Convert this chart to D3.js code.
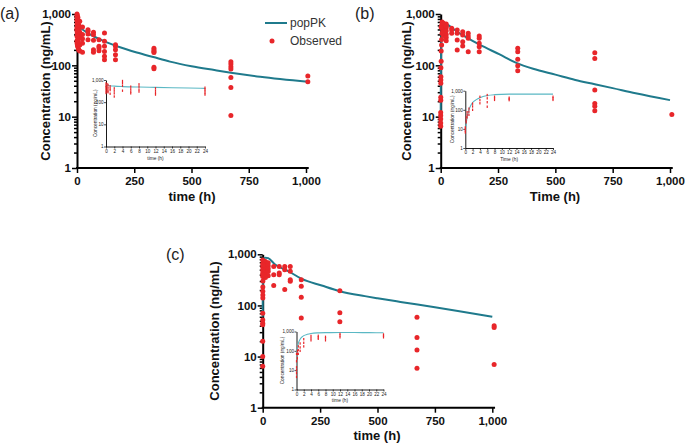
<!DOCTYPE html>
<html><head><meta charset="utf-8">
<script src="https://cdn.jsdelivr.net/npm/d3@7"></script>
<style>body{margin:0;background:#fff}svg{display:block}text{font-family:"Liberation Sans",Arial,sans-serif}</style>
</head><body>
<script>
// ---------- tick labels ----------
const yTickLabels = [1, 10, 100, 1000];
const xTicksMain = [0, 250, 500, 750, 1000];
const xTicksInset = [0, 2, 4, 6, 8, 10, 12, 14, 16, 18, 20, 22, 24];
const panelLabels = ["(a)", "(b)", "(c)"];
const xTitles = ["time (h)", "Time (h)", "time (h)"];
const yTitle = "Concentration (ng/mL)";
const legendLabels = ["popPK", "Observed"];

// ---------- popPK predictions [time h, conc ng/mL] ----------
const predA = [[0,600],[24,500],[57,400],[115,300],[188,225],[261,178],[333,145],[406,118],[500,96],[600,81],[672,72],[800,60],[1008,48]];
const predB = [[0,8],[0.5,40],[1,100],[2,240],[4,430],[6,560],[12,650],[24,640],[48,540],[72,450],[112,350],[170,252],[257,163],[330,112],[403,86],[500,66],[587,52],[672,43],[750,36],[850,28.5],[1000,21]];
const predC = [[0,60],[0.25,150],[0.5,250],[1,420],[2,620],[3,720],[4,780],[6,830],[8,850],[12,860],[24,840],[54,630],[111,470],[170,330],[257,245],[336,190],[445,152],[500,138],[600,117],[750,92],[850,78],[1000,60]];

// ---------- observed [time h, conc ng/mL] ----------
const obsA = [
[0,1000],[0,900],[0.5,800],[1,950],[2,700],[0,750],[4,850],[6,650],[8,600],[12,720],[24,560],
[0,640],[0.5,560],[1,500],[2,460],[4,420],[6,400],[8,380],[12,350],[24,330],
[0,300],[0.5,280],[1,260],[2,240],[4,230],[6,210],[8,200],[12,190],[24,180],
[0,520],[1,420],[2,360],[4,310],[6,550],[8,480],[12,440],[24,400],[0.25,470],[0.25,370],[24,270],[12,250],[6,290],
[48,494],[48,460],[48,408],[48,316],
[72,440],[72,395],[72,307],[72,201],[72,179],
[96,316],[96,235],[96,217],[96,193],
[120,426],[120,293],[120,235],[120,187],[120,150],[120,128],
[168,252],[168,235],[168,201],[168,161],[168,128],
[336,215],[336,200],[336,185],[336,178],[336,92],[336,86],
[672,117],[672,106],[672,94],[672,85],[672,58],[672,37],[672,10.5],
[1008,62],[1008,48]];
const obsB = [
[0,6.5],[0,7.5],[0,9],[0,10.5],[0,12],[0.25,21],[0.25,24],[0.5,45],[0.5,52],[1,60],[1,90],[2,120],[2,190],[4,250],[4,320],[6,420],[6,700],[8,620],[8,500],[12,560],[12,460],[12,380],
[24,640],[24,540],[24,470],[24,400],[24,350],[24,300],[6,560],[4,600],[2,550],[8,420],[12,660],[24,580],
[48,525],[48,488],[48,420],
[72,488],[72,420],[72,311],[72,198],
[96,452],[96,390],[96,288],[96,238],
[120,420],[120,372],[120,336],[120,184],
[168,372],[168,336],[168,268],[168,231],[168,184],
[336,214],[336,184],[336,131],[336,98],[336,78],
[672,176],[672,136],[672,33],[672,18],[672,16],[672,13],
[1008,11]];
const obsC = [
[0,770],[0,650],[0,560],[0,480],[0,420],[0,370],[0.5,230],[0.5,190],[0.5,160],[0.5,140],[0.25,70],[0.25,52],[0,45],[0,42],[0,20],[0,10],[0,6.5],
[4,740],[4,600],[6,700],[6,520],[8,650],[8,480],[12,720],[12,560],[12,430],[24,680],[24,600],[24,520],[24,460],[24,380],[12,350],[2,620],[2,400],[1,300],
[48,580],[48,400],[48,245],
[72,580],[72,430],[72,400],
[96,580],[96,500],[96,205],
[120,580],[120,465],[120,318],[120,296],
[168,318],[168,236],[168,144],[168,57],
[336,194],[336,72],[336,48],
[672,59],[672,23.5],[672,13.5],[672,5.9],
[1008,40],[1008,37],[1008,7]];

// ---------- inset (0-24 h) ----------
const insetPredA = [[0,640],[0.5,570],[1,550],[2,530],[4,505],[8,480],[12,465],[16,450],[20,435],[24,420]];
const insetPredB = [[0,8],[0.25,20],[0.5,40],[1,100],[1.5,170],[2,240],[3,340],[4,430],[6,560],[8,620],[12,660],[16,665],[20,665],[24,660]];
const insetPredC = [[0,60],[0.25,140],[0.5,240],[1,400],[1.5,520],[2,610],[3,720],[4,790],[6,850],[8,870],[12,880],[16,880],[20,870],[24,860]];
const insetObsA = [
[0,700],[0,560],[0,480],[0,400],[0,320],[0,260],
[0.25,650],[0.25,500],[0.25,380],[0.25,300],
[0.5,600],[0.5,450],[0.5,340],[0.5,280],
[1,520],[1,420],[1,350],[1,240],
[2,420],[2,330],[2,250],[2,180],
[4,900],[4,720],[4,550],[4,330],
[6,500],[6,380],[6,300],[6,250],
[8,640],[8,500],[8,370],[8,300],
[12,420],[12,330],[12,260],[12,220],
[24,450],[24,380],[24,320],[24,260],[24,220]];
const insetObsB = [
[0,12],[0,10],[0,8],[0,6.5],
[0.25,40],[0.25,28],[0.25,22],
[0.5,75],[0.5,55],[0.5,40],
[1,115],[1,80],[1,55],
[2,210],[2,150],[2,100],
[4,480],[4,320],[4,220],
[6,590],[6,400],[6,250],[6,145],
[8,480],[8,400],[8,330],
[12,430],[12,370],[12,320],
[24,480],[24,400],[24,330]];
const insetObsC = [
[0,70],[0,29],[0,14],[0,10],[0,7],[0,4.5],
[0.25,100],[0.25,70],[0.25,41],
[0.5,170],[0.5,110],[0.5,70],
[1,240],[1,150],[1,100],
[2,400],[2,260],[2,170],
[4,590],[4,450],[4,350],
[6,600],[6,500],[6,420],
[8,530],[8,450],[8,350],
[12,750],[12,620],[12,500],
[24,700],[24,600],[24,500]];

// ---------- styling / layout ----------
const LINE = "#1f7a8c", INSET_LINE = "#5ab8c4", RED = "#e8262a";
const W = 685, H = 446;
const svg = d3.select("body").append("svg").attr("width", W).attr("height", H);
const fmt = d3.format(",");

function mainPanel(L, pred, obs, idx) {
  const k = (L.x1000 - L.x0) / 1000;
  const x = d3.scaleLinear().domain([0, 1000]).range([L.x0, L.x1000]);
  const y = d3.scaleLog().domain([1, 1000]).range([L.yB, L.yT]);
  const g = svg.append("g");
  const ya = g.append("g").attr("transform", `translate(${L.x0},0)`)
    .call(d3.axisLeft(y).tickValues(y.ticks()).tickSizeOuter(0)
      .tickFormat(d => yTickLabels.includes(d) ? fmt(d) : ""));
  ya.select(".domain").attr("stroke", "#000").attr("stroke-width", 2);
  ya.selectAll(".tick line").attr("stroke", "#000").attr("stroke-width", 1.5)
    .attr("x2", d => yTickLabels.includes(d) ? -5 : -3);
  ya.selectAll(".tick text").attr("x", -6).attr("font-size", 11.5).attr("font-weight", "bold").attr("fill", "#111");
  const xa = g.append("g").attr("transform", `translate(0,${L.yB})`)
    .call(d3.axisBottom(x).tickValues(xTicksMain).tickSizeOuter(0).tickFormat(fmt));
  xa.select(".domain").attr("stroke", "#000").attr("stroke-width", 2)
    .attr("d", `M${L.x0 - 1},0H${L.x0 + 1012 * k}`);
  xa.selectAll(".tick line").attr("stroke", "#000").attr("stroke-width", 1.5).attr("y2", 5);
  xa.selectAll(".tick text").attr("y", 9).attr("font-size", 11.5).attr("font-weight", "bold").attr("fill", "#111");
  g.append("text").attr("transform", `translate(${L.ytx},${(L.yT + L.yB) / 2}) rotate(-90)`)
    .attr("text-anchor", "middle").attr("dy", "0.35em").attr("font-size", 13).attr("font-weight", "bold")
    .attr("fill", "#111").text(yTitle);
  g.append("text").attr("x", L.xtx).attr("y", L.xty).attr("text-anchor", "middle")
    .attr("font-size", 13).attr("font-weight", "bold").attr("fill", "#111").text(xTitles[idx]);
  g.append("text").attr("x", L.lx).attr("y", L.ly).attr("font-size", 16).attr("fill", "#222").text(panelLabels[idx]);
  const line = d3.line().x(d => x(d[0])).y(d => y(d[1])).curve(d3.curveMonotoneX);
  g.append("path").datum(pred).attr("d", line).attr("fill", "none").attr("stroke", LINE).attr("stroke-width", 2);
  g.selectAll("circle.obs").data(obs).join("circle").attr("class", "obs")
    .attr("cx", d => x(d[0])).attr("cy", d => y(d[1])).attr("r", 2.5).attr("fill", RED);
}

function insetPanel(I, pred, obs, idx) {
  const x = d3.scaleLinear().domain([0, 24]).range([I.x0, I.x24]);
  const y = d3.scaleLog().domain([1, 1000]).range([I.yB, I.yT]);
  const g = svg.append("g");
  const ya = g.append("g").attr("transform", `translate(${I.x0},0)`)
    .call(d3.axisLeft(y).tickValues(yTickLabels).tickSizeOuter(0).tickFormat(fmt));
  ya.select(".domain").attr("stroke", "#000").attr("stroke-width", 0.9);
  ya.selectAll(".tick line").attr("stroke", "#000").attr("stroke-width", 0.7).attr("x2", -2);
  ya.selectAll(".tick text").attr("x", -2.5).attr("font-size", 4.6).attr("fill", "#222");
  const xa = g.append("g").attr("transform", `translate(0,${I.yB})`)
    .call(d3.axisBottom(x).tickValues(xTicksInset).tickSizeOuter(0));
  xa.select(".domain").attr("stroke", "#000").attr("stroke-width", 0.9);
  xa.selectAll(".tick line").attr("stroke", "#000").attr("stroke-width", 0.7).attr("y2", 2);
  xa.selectAll(".tick text").attr("y", 3).attr("font-size", 4.6).attr("fill", "#222");
  g.append("text").attr("transform", `translate(${I.ytx},${(I.yT + I.yB) / 2}) rotate(-90)`)
    .attr("text-anchor", "middle").attr("dy", "0.35em").attr("font-size", 4.8).attr("fill", "#222").text(yTitle);
  g.append("text").attr("x", (I.x0 + I.x24) / 2).attr("y", I.xty).attr("text-anchor", "middle")
    .attr("font-size", 4.8).attr("fill", "#222").text(xTitles[idx]);
  const line = d3.line().x(d => x(d[0])).y(d => y(d[1])).curve(d3.curveMonotoneX);
  g.append("path").datum(pred).attr("d", line).attr("fill", "none").attr("stroke", INSET_LINE).attr("stroke-width", 1.1);
  g.selectAll("rect.obs").data(obs).join("rect").attr("class", "obs")
    .attr("x", d => x(d[0]) - 0.6).attr("y", d => y(d[1]) - 1.2).attr("width", 1.2).attr("height", 2.4).attr("fill", RED);
}

const layouts = [
  {x0: 77, x1000: 306, yT: 14, yB: 168, ytx: 45, xtx: 192, xty: 201, lx: 0, ly: 19},
  {x0: 440.7, x1000: 670, yT: 14, yB: 168, ytx: 406, xtx: 555, xty: 201, lx: 355, ly: 19},
  {x0: 262.7, x1000: 492.3, yT: 254.3, yB: 407.7, ytx: 214, xtx: 377, xty: 440, lx: 166, ly: 260}
];
const insets = [
  {x0: 106, x24: 205, yT: 80, yB: 146.5, ytx: 95, xty: 160},
  {x0: 465.3, x24: 553, yT: 90.7, yB: 148, ytx: 452, xty: 161},
  {x0: 296.5, x24: 383.5, yT: 331.5, yB: 389.5, ytx: 282, xty: 402}
];
const preds = [predA, predB, predC], obss = [obsA, obsB, obsC];
const ipreds = [insetPredA, insetPredB, insetPredC], iobss = [insetObsA, insetObsB, insetObsC];
layouts.forEach((L, i) => { mainPanel(L, preds[i], obss[i], i); insetPanel(insets[i], ipreds[i], iobss[i], i); });

const lg = svg.append("g");
lg.append("line").attr("x1", 265).attr("x2", 287).attr("y1", 23).attr("y2", 23).attr("stroke", LINE).attr("stroke-width", 2);
lg.append("text").attr("x", 290).attr("y", 27).attr("font-size", 12).attr("fill", "#333").text(legendLabels[0]);
lg.append("circle").attr("cx", 272).attr("cy", 41).attr("r", 2.5).attr("fill", RED);
lg.append("text").attr("x", 290).attr("y", 45).attr("font-size", 12).attr("fill", "#333").text(legendLabels[1]);
</script>
</body></html>
